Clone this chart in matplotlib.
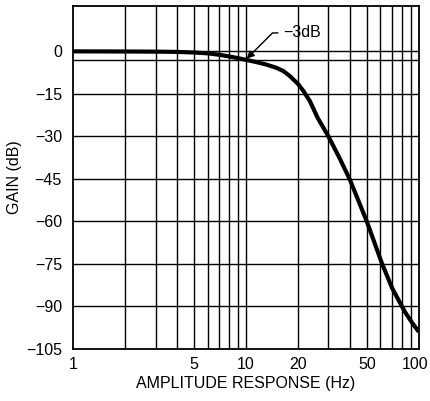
import numpy as np
import matplotlib.pyplot as plt
from matplotlib.ticker import FixedLocator, NullFormatter
from matplotlib.transforms import ScaledTranslation

plt.rcParams['font.family'] = ['Liberation Sans', 'DejaVu Sans']

# curve
freq = [1, 2, 3, 4, 5, 6, 7, 8, 9, 10, 11.5, 13, 15, 16.5, 18, 20, 21.5,
        23.4, 26, 30, 35, 40, 50, 61, 70, 83, 92, 100]
gain = [0, -0.05, -0.1, -0.2, -0.4, -0.7, -1.2, -1.8, -2.4, -3, -3.8, -4.6,
        -5.8, -7, -8.8, -11.5, -14, -17.5, -23.5, -30, -38, -45.4, -60, -74.6,
        -83.5, -91.9, -96, -99]

x_grid = [2, 3, 4, 5, 6, 7, 8, 9, 10, 20, 30, 40, 50, 60, 70, 80, 90]
x_ticks = [1, 5, 10, 20, 50, 100]
y_ticks = [0, -15, -30, -45, -60, -75, -90, -105]

fig = plt.figure(figsize=(4.30, 4.01), dpi=100)
ax = fig.add_axes([0.170, 0.130, 0.804, 0.855])
ax.set_xscale('log')
ax.set_xlim(1, 100)
ax.set_ylim(-105, 16)

for xv in x_grid:
    ax.axvline(xv, color='black', lw=1.0, zorder=1)
for yv in y_ticks[1:-1] + [0, -3]:
    ax.axhline(yv, color='black', lw=1.0, zorder=1)

ax.plot(freq, gain, color='black', lw=3, solid_capstyle='butt',
        solid_joinstyle='round', zorder=3)

ax.annotate('\u22123dB', xy=(10.1, -2.6), xytext=(16.5, 6.5),
            fontsize=11.5, va='center', ha='left',
            arrowprops=dict(arrowstyle='-|>', color='black', lw=1.0,
                            shrinkA=2, shrinkB=0, mutation_scale=11,
                            connectionstyle='angle,angleA=0,angleB=45,rad=0'))

ax.xaxis.set_major_locator(FixedLocator(x_ticks))
ax.xaxis.set_minor_formatter(NullFormatter())
ax.set_xticklabels([str(v) for v in x_ticks])
ax.set_yticks(y_ticks)
ax.set_yticklabels(['0'] + ['\u2212' + str(-v) for v in y_ticks[1:]])
ax.tick_params(which='both', length=0, labelsize=11.5)
ax.tick_params(axis='y', pad=8)
ax.tick_params(axis='x', pad=6)

# keep "100" inside the figure
last = ax.get_xticklabels()[-1]
last.set_transform(last.get_transform() + ScaledTranslation(-4 / 100, 0, fig.dpi_scale_trans))

for s in ax.spines.values():
    s.set_linewidth(1.3)

ax.set_xlabel('AMPLITUDE RESPONSE (Hz)', fontsize=11.5, labelpad=3)
ax.set_ylabel('GAIN (dB)', fontsize=11.5, labelpad=3)

fig.savefig('out.png', dpi=100)
